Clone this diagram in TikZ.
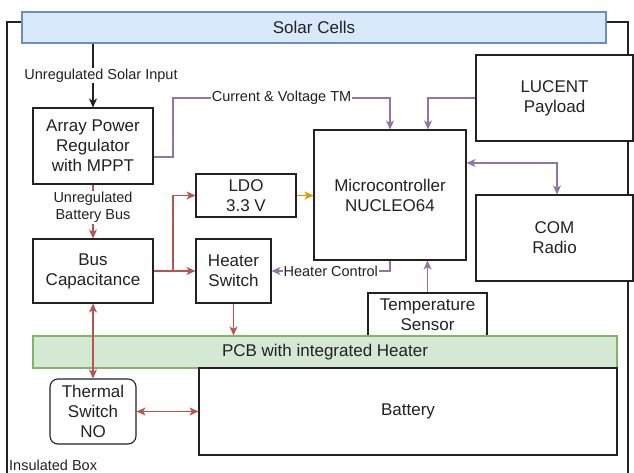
\documentclass[tikz,border=0pt]{standalone}
\usepackage{fontspec}
\setmainfont{Liberation Sans}
\usetikzlibrary{arrows.meta}
\definecolor{txt}{HTML}{222222}
\definecolor{edge}{HTML}{222222}
\definecolor{redl}{HTML}{B85450}
\definecolor{purl}{HTML}{9673A6}
\definecolor{orgl}{HTML}{D79B00}
\definecolor{bluef}{HTML}{DAE8FC}
\definecolor{blued}{HTML}{6C8EBF}
\definecolor{greenf}{HTML}{D5E8D4}
\definecolor{greend}{HTML}{82B366}
\tikzset{
  box/.style={draw=edge, fill=white, line width=1.1pt, inner sep=0pt, align=center,
    text=txt, font=\fontsize{17}{20}\selectfont},
  lbl/.style={fill=white, inner sep=1pt, text=txt, align=center,
    font=\fontsize{14.5}{16.5}\selectfont},
  conn/.style={line width=1.2pt, -{Stealth[length=9pt,width=8pt,inset=2.5pt]}},
  bconn/.style={line width=1.2pt, {Stealth[length=9pt,width=8pt,inset=2.5pt]}-{Stealth[length=9pt,width=8pt,inset=2.5pt]}},
}
\begin{document}
\begin{tikzpicture}[x=1pt,y=-1pt]
\useasboundingbox (0,0) rectangle (634,473);
% insulated box
\draw[edge, line width=1.1pt] (7,480) -- (7,22) -- (628,22) -- (628,480);
\node[anchor=west, text=txt, inner sep=0pt, font=\fontsize{14.5}{16.5}\selectfont] (ib) at (9,465) {Insulated Box};
% boxes
\node[box, draw=blued, fill=bluef, minimum width=584, minimum height=31] (solar) at (314,27.5) {Solar Cells};
\node[box, minimum width=120, minimum height=76] (apr) at (93,146) {Array Power\\Regulator\\with MPPT};
\node[box, minimum width=120, minimum height=64] (bus) at (93,271) {Bus\\Capacitance};
\node[box, minimum width=100, minimum height=43] (ldo) at (246,195.5) {LDO\\3.3 V};
\node[box, minimum width=75, minimum height=64] (heat) at (233.5,271) {Heater\\Switch};
\node[box, minimum width=152, minimum height=130] (mcu) at (390,195) {Microcontroller\\NUCLEO64};
\node[box, minimum width=157, minimum height=86] (lucent) at (554.5,98) {LUCENT\\Payload};
\node[box, minimum width=157, minimum height=86] (com) at (554.5,238) {COM\\Radio};
\node[box, minimum width=119, minimum height=43] (temp) at (427.5,314.5) {Temperature\\Sensor};
\node[box, draw=greend, fill=greenf, minimum width=584, minimum height=32] (pcb) at (325,352) {PCB with integrated Heater};
\node[box, rounded corners=8pt, minimum width=86, minimum height=65] (thermal) at (93,411.5) {Thermal\\Switch\\NO};
\node[box, minimum width=418, minimum height=87] (battery) at (408,411.5) {Battery};
% connectors
\draw[conn, edge] (solar.south -| apr.north) -- node[lbl, xshift=8pt] {Unregulated Solar Input} (apr.north);
\draw[conn, redl] (apr.south) -- node[lbl, yshift=4pt] {Unregulated\\Battery Bus} (bus.north);
\coordinate (c1) at (173,98);
\draw[conn, purl] ([yshift=-11pt]apr.east) -| (c1) -| node[lbl, pos=0.25] {Current \& Voltage TM} (mcu.north);
\draw[conn, purl] (lucent.west) -| ([xshift=38pt]mcu.north);
\draw[bconn, purl] ([yshift=32pt]mcu.east) -| ([xshift=2.5pt]com.north);
\draw[conn, orgl] (ldo.east) -- (ldo.east -| mcu.west);
\coordinate (split) at (173,271);
\draw[conn, redl] (bus.east) -- (split) |- (ldo.west);
\draw[conn, redl] (split) -- (heat.west);
\draw[conn, purl] (mcu.south) |- node[lbl, pos=0.75] {Heater Control} (heat.east);
\draw[conn, purl] (temp.north) -- (temp.north |- mcu.south);
\draw[conn, redl] (heat.south) -- (heat.south |- pcb.north);
\draw[bconn, redl] (bus.south) -- (thermal.north);
\draw[bconn, redl] (thermal.east) -- (thermal.east -| battery.west);
\end{tikzpicture}
\end{document}
